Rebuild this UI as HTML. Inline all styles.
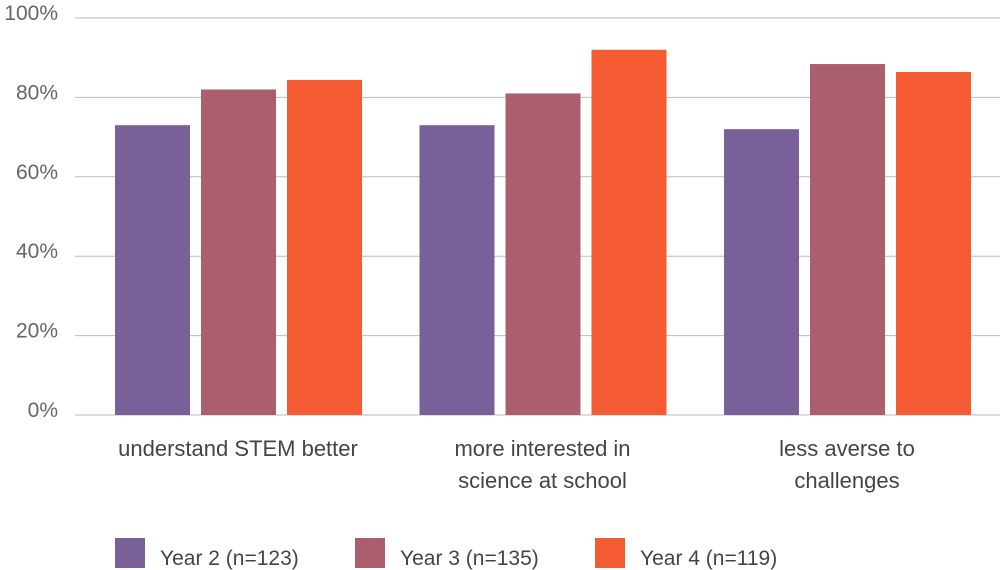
<!DOCTYPE html>
<html><head><meta charset="utf-8"><style>
body{margin:0;background:#fff;}
svg{display:block;font-family:"Liberation Sans",sans-serif;}
</style></head><body>
<svg id="chart" width="1000" height="570"></svg>
<script>
const categories=[["understand STEM better"],["more interested in","science at school"],["less averse to","challenges"]];
const seriesNames=["Year 2 (n=123)","Year 3 (n=135)","Year 4 (n=119)"];
const year2=[73,73,72];
const year3=[82,81,88.4];
const year4=[84.4,92,86.4];
const ticks=[0,20,40,60,80,100];
const colors=["#7a6098","#ab5f6e","#f45b33"];
const series=[year2,year3,year4];
const NS="http://www.w3.org/2000/svg";
const svg=document.getElementById('chart');
const y0=415,y1=18;
const yScale=v=>y0-(v/100)*(y0-y1);
const groupX=i=>115+i*304.5;
function el(t,a,p){const e=document.createElementNS(NS,t);for(const k in a)e.setAttribute(k,a[k]);(p||svg).appendChild(e);return e;}
ticks.forEach(t=>{
  const l=el('line',{x1:75,x2:1000,y1:yScale(t),y2:yScale(t),stroke:'#bbb','stroke-width':1});
  
  
  const tx=el('text',{x:58,y:yScale(t)+2,'text-anchor':'end','font-size':21,fill:'#666'});
  tx.textContent=t+'%';
  
  
});
categories.forEach((c,i)=>{
  series.forEach((s,j)=>{
    const x=groupX(i)+j*86;
    const r=el('rect',{x:x,y:yScale(s[i]),width:75,height:y0-yScale(s[i]),fill:colors[j]});
    
    
  });
  const cx=groupX(i)+123;
  c.forEach((line,k)=>{
    const t=el('text',{x:cx,y:456+k*32,'text-anchor':'middle','font-size':22,fill:'#444'});
    t.textContent=line;
    
    
  });
});
seriesNames.forEach((n,j)=>{
  const x=115+j*240;
  const r=el('rect',{x:x,y:538,width:30,height:30,fill:colors[j]});
  
  
  const t=el('text',{x:x+45,y:565,'font-size':21,fill:'#444'});
  t.textContent=n;
  
  
});
</script>
</body></html>
